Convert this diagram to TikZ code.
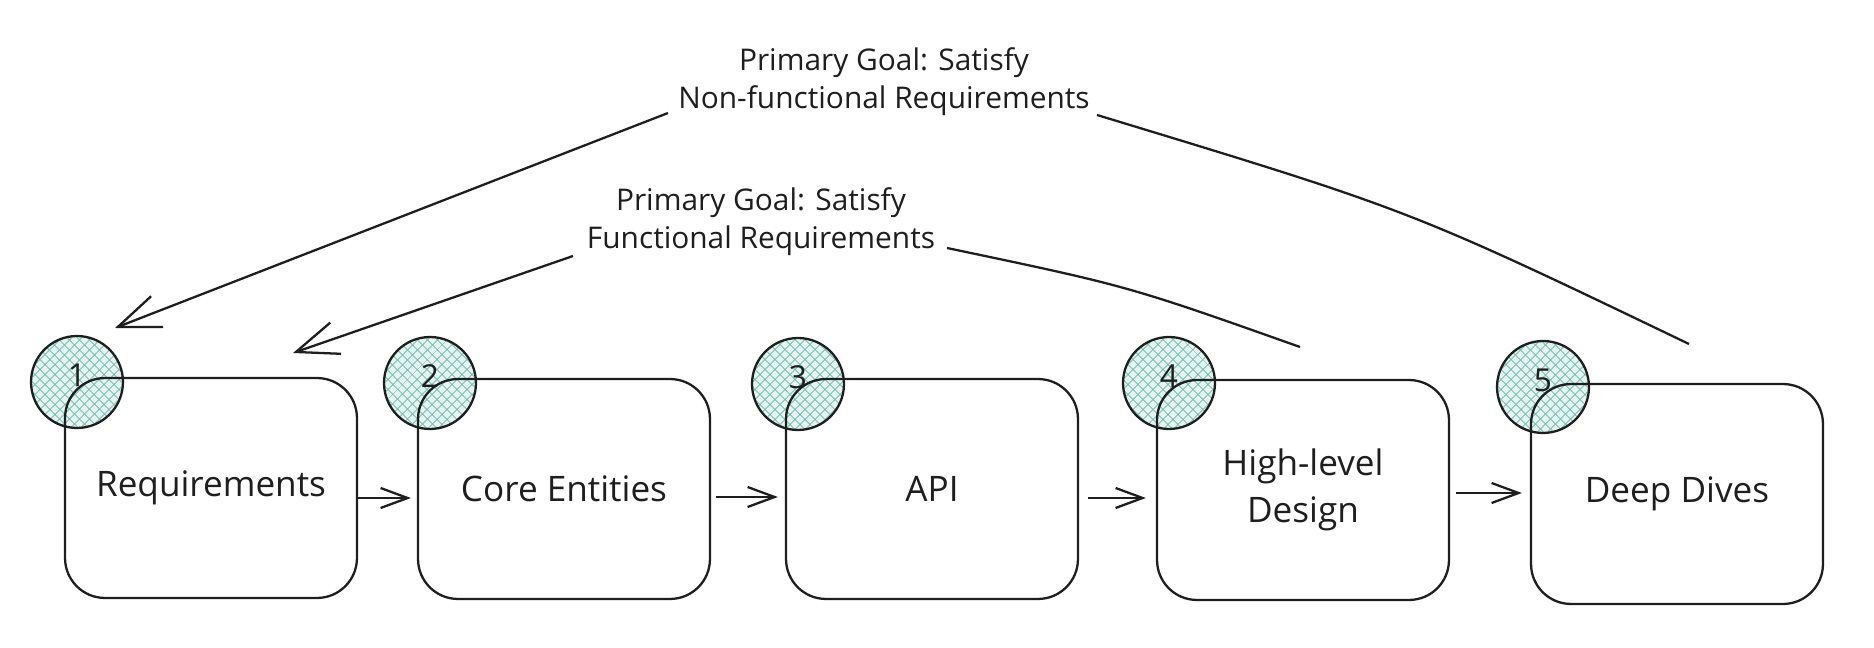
\documentclass[tikz,border=0pt]{standalone}
\usepackage{fontspec}
\setmainfont{Open Sans}
\usetikzlibrary{arrows.meta,patterns.meta}
\definecolor{ink}{HTML}{1E1E1E}
\definecolor{hatch}{RGB}{110,185,170}
\definecolor{hatchbg}{RGB}{228,244,240}
\tikzset{
  stage/.style={draw=ink, line width=1.3pt, rounded corners=0.8cm,
    minimum width=5.84cm, minimum height=4.4cm, align=center,
    font=\fontsize{20}{27}\selectfont, text=ink},
  badge/.style={circle, draw=ink, line width=1.3pt, minimum size=1.84cm,
    inner sep=0pt,
    preaction={fill=hatchbg},
    preaction={pattern={Lines[angle=45,distance=4pt,line width=0.5pt]}, pattern color=hatch},
    preaction={pattern={Lines[angle=-45,distance=4pt,line width=0.5pt]}, pattern color=hatch}},
  digit/.style={inner sep=0pt, font=\fontsize{18}{20}\selectfont, text=ink},
  note/.style={align=center, font=\fontsize{17}{21.5}\selectfont, text=ink},
  flow/.style={draw=ink, line width=1.3pt, -{Straight Barb[length=0.54cm,width=0.4cm]}},
  goal/.style={draw=ink, line width=1.3pt},
  goalarrow/.style={goal, -{Straight Barb[length=0.84cm,width=0.66cm]}}
}
\begin{document}
\begin{tikzpicture}[x=0.02cm,y=-0.02cm]
\useasboundingbox (0,0) rectangle (1874,648);
% number badges
\node[badge] (n1) at (77,382) {};
\node[badge] (n2) at (430,383) {};
\node[badge] (n3) at (798,384) {};
\node[badge] (n4) at (1169,383) {};
\node[badge] (n5) at (1543,387) {};
% stage boxes
\node[stage] (b1) at (211,488) {Requirements};
\node[stage] (b2) at (564,489) {Core Entities};
\node[stage] (b3) at (932,489) {API};
\node[stage] (b4) at (1303,490) {High-level\\Design};
\node[stage] (b5) at (1677,494) {Deep Dives};
% badge numbers
\node[digit] (d1) at ([yshift=0.14cm]n1.center) {1};
\node[digit] (d2) at ([yshift=0.14cm]n2.center) {2};
\node[digit] (d3) at ([yshift=0.14cm]n3.center) {3};
\node[digit] (d4) at ([yshift=0.14cm]n4.center) {4};
\node[digit] (d5) at ([yshift=0.14cm]n5.center) {5};
% flow arrows
\draw[flow] ([yshift=-0.2cm]b1.east) -- ([yshift=-0.2cm,xshift=-0.12cm]b1.east -| b2.west);
\draw[flow] ([yshift=-0.16cm,xshift=0.1cm]b2.east) -- ([yshift=-0.16cm,xshift=-0.14cm]b2.east -| b3.west);
\draw[flow] ([yshift=-0.18cm,xshift=0.18cm]b3.east) -- ([yshift=-0.18cm,xshift=-0.2cm]b3.east -| b4.west);
\draw[flow] ([yshift=-0.06cm,xshift=0.12cm]b4.east) -- ([yshift=-0.06cm,xshift=-0.16cm]b4.east -| b5.west);
% goal labels
\node[note] (nf) at (884,82) {Primary Goal: Satisfy\\Non-functional Requirements};
\node[note] (fn) at (761,222) {Primary Goal: Satisfy\\Functional Requirements};
% goal connector ends
\coordinate (t1) at (115,328);
\coordinate (t2) at (293,353);
\coordinate (nfW) at (668,113);
\coordinate (nfE) at (1097,115);
\coordinate (fnW) at (573,256);
\coordinate (fnE) at (947,248);
\coordinate (s5) at (1689,344);
\coordinate (s4) at (1300,347);
% goal connectors
\draw[goal] (s5) .. controls (1410,210) .. (nfE);
\draw[goalarrow] (nfW) -- (t1);
\draw[goal] (s4) .. controls (1128,286) .. (fnE);
\draw[goalarrow] (fnW) -- (t2);
\end{tikzpicture}
\end{document}
